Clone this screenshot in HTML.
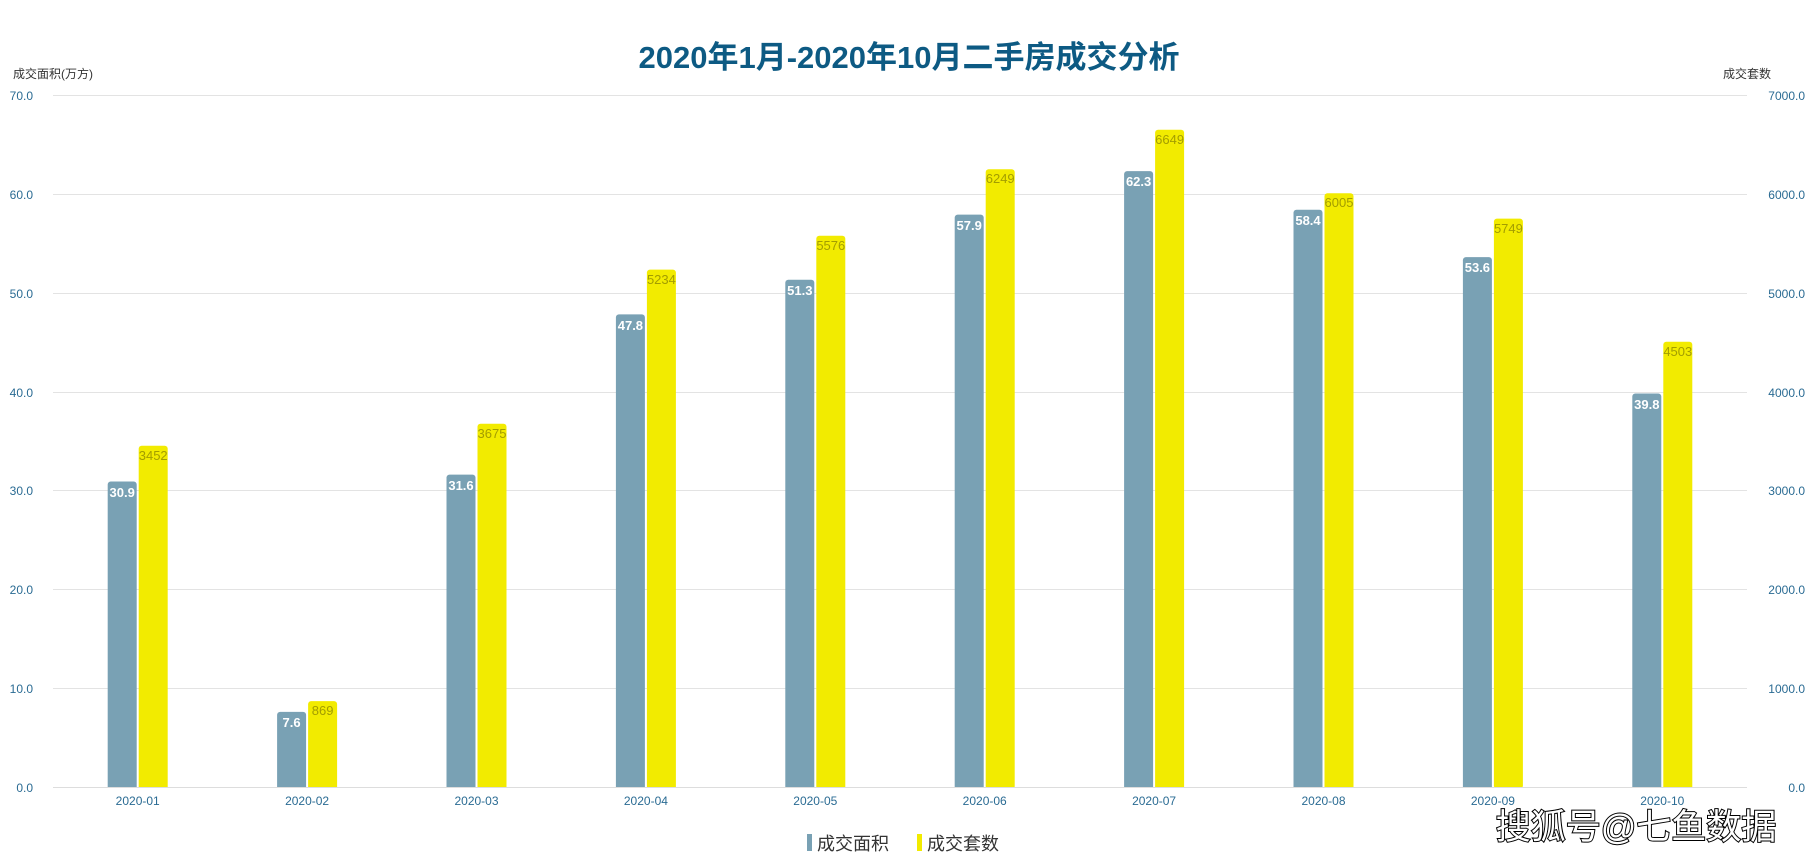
<!DOCTYPE html>
<html><head><meta charset="utf-8"><style>
html,body{margin:0;padding:0;background:#fff;}
svg{display:block;font-family:"Liberation Sans","Noto Sans CJK SC",sans-serif;}
</style></head><body>
<svg width="1819" height="861" viewBox="0 0 1819 861">
<defs><clipPath id="c"><rect x="0" y="0" width="1819" height="787"/></clipPath></defs>
<text x="909" y="68" text-anchor="middle" font-size="31" font-weight="bold" fill="#0d5a83">2020年1月-2020年10月二手房成交分析</text>
<text x="13" y="78" font-size="12" fill="#333">成交面积(万方)</text>
<text x="1771" y="78" font-size="12" fill="#333" text-anchor="end">成交套数</text>
<g stroke="#e3e3e3" stroke-width="1">
<line x1="53" x2="1747" y1="95.5" y2="95.5"/><line x1="53" x2="1747" y1="194.5" y2="194.5"/><line x1="53" x2="1747" y1="293.5" y2="293.5"/><line x1="53" x2="1747" y1="392.5" y2="392.5"/><line x1="53" x2="1747" y1="490.5" y2="490.5"/><line x1="53" x2="1747" y1="589.5" y2="589.5"/><line x1="53" x2="1747" y1="688.5" y2="688.5"/><line x1="53" x2="1747" y1="787.5" y2="787.5" stroke="#ddd"/>
</g>
<g font-size="12" fill="#2a6b93" text-anchor="end">
<text x="33" y="100">70.0</text><text x="33" y="199">60.0</text><text x="33" y="298">50.0</text><text x="33" y="397">40.0</text><text x="33" y="495">30.0</text><text x="33" y="594">20.0</text><text x="33" y="693">10.0</text><text x="33" y="792">0.0</text>
<text x="1805" y="100">7000.0</text><text x="1805" y="199">6000.0</text><text x="1805" y="298">5000.0</text><text x="1805" y="397">4000.0</text><text x="1805" y="495">3000.0</text><text x="1805" y="594">2000.0</text><text x="1805" y="693">1000.0</text><text x="1805" y="792">0.0</text>
</g>
<g font-size="12" fill="#2a6b93" text-anchor="middle">
<text x="137.7" y="805">2020-01</text><text x="307.1" y="805">2020-02</text><text x="476.5" y="805">2020-03</text><text x="645.9" y="805">2020-04</text><text x="815.3" y="805">2020-05</text><text x="984.7" y="805">2020-06</text><text x="1154.1" y="805">2020-07</text><text x="1323.5" y="805">2020-08</text><text x="1492.9" y="805">2020-09</text><text x="1662.3" y="805">2020-10</text>
</g>
<g clip-path="url(#c)" fill="#79a1b4">
<rect x="107.7" y="481.5" width="29" height="320" rx="3"/>
<rect x="277.1" y="711.9" width="29" height="100" rx="3"/>
<rect x="446.5" y="474.6" width="29" height="320" rx="3"/>
<rect x="615.9" y="314.4" width="29" height="480" rx="3"/>
<rect x="785.3" y="279.8" width="29" height="520" rx="3"/>
<rect x="954.7" y="214.6" width="29" height="580" rx="3"/>
<rect x="1124.1" y="171.1" width="29" height="620" rx="3"/>
<rect x="1293.5" y="209.7" width="29" height="580" rx="3"/>
<rect x="1462.9" y="257.1" width="29" height="540" rx="3"/>
<rect x="1632.3" y="393.5" width="29" height="400" rx="3"/>
</g>
<g clip-path="url(#c)" fill="#f2eb00">
<rect x="138.7" y="445.7" width="29" height="350" rx="3"/>
<rect x="308.1" y="701.1" width="29" height="100" rx="3"/>
<rect x="477.5" y="423.7" width="29" height="370" rx="3"/>
<rect x="646.9" y="269.6" width="29" height="520" rx="3"/>
<rect x="816.3" y="235.8" width="29" height="560" rx="3"/>
<rect x="985.7" y="169.2" width="29" height="620" rx="3"/>
<rect x="1155.1" y="129.7" width="29" height="660" rx="3"/>
<rect x="1324.5" y="193.3" width="29" height="600" rx="3"/>
<rect x="1493.9" y="218.6" width="29" height="570" rx="3"/>
<rect x="1663.3" y="341.8" width="29" height="450" rx="3"/>
</g>
<g font-size="13" font-weight="bold" fill="#fff" text-anchor="middle">
<text x="122.2" y="497">30.9</text><text x="291.6" y="727">7.6</text><text x="461" y="490">31.6</text><text x="630.4" y="330">47.8</text><text x="799.8" y="295">51.3</text><text x="969.2" y="230">57.9</text><text x="1138.6" y="186">62.3</text><text x="1308" y="225">58.4</text><text x="1477.4" y="272">53.6</text><text x="1646.8" y="409">39.8</text>
</g>
<g font-size="13" fill="#a39d00" text-anchor="middle">
<text x="153.2" y="460">3452</text><text x="322.6" y="715">869</text><text x="492" y="438">3675</text><text x="661.4" y="284">5234</text><text x="830.8" y="250">5576</text><text x="1000.2" y="183">6249</text><text x="1169.6" y="144">6649</text><text x="1339" y="207">6005</text><text x="1508.4" y="233">5749</text><text x="1677.8" y="356">4503</text>
</g>
<rect x="807" y="834" width="5" height="17" fill="#79a1b4"/>
<text x="817" y="850" font-size="18" fill="#333">成交面积</text>
<rect x="917" y="834" width="5" height="17" fill="#f2eb00"/>
<text x="927" y="850" font-size="18" fill="#333">成交套数</text>
<text x="1636" y="839" font-size="35" text-anchor="middle" fill="#fff" stroke="#000" stroke-width="2" paint-order="stroke">搜狐号@七鱼数据</text>
</svg>
</body></html>
